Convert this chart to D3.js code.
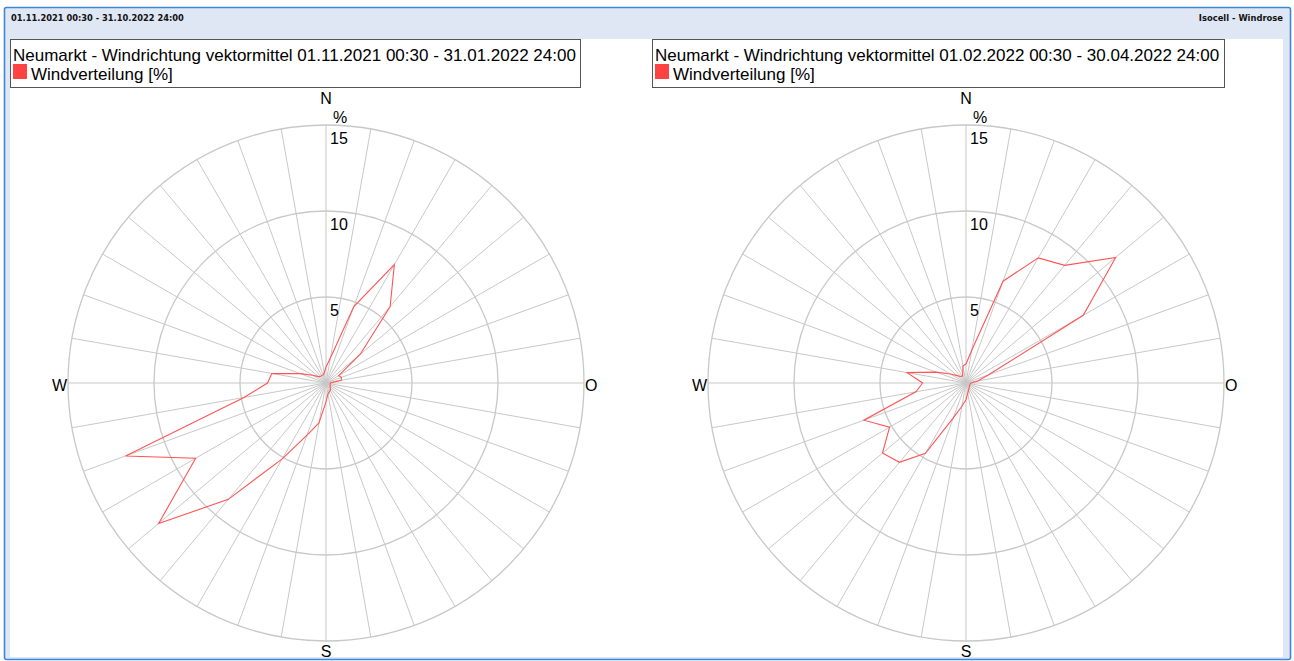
<!DOCTYPE html>
<html>
<head>
<meta charset="utf-8">
<script src="https://cdn.jsdelivr.net/npm/d3@7"></script>
<style>
  html, body { margin: 0; padding: 0; background: #ffffff; }
  svg { display: block; }
</style>
</head>
<body>
<svg id="chart" width="1294" height="661"></svg>
<script>
// Wind directions in degrees (clockwise from north)
const directions = d3.range(0, 360, 10);

// Wind distribution [%] per direction, winter period
const windWinter = [
  0.93, 1.47, 4.73, 7.95, 5.8, 2.6, 0.85, 0.95, 0.9,
  0.25, 0.25, 0.25, 0.3, 0.3, 0.4, 0.5, 0.55, 0.65,
  1.1, 2.36, 3.22, 5.09, 8.83, 12.7, 8.75, 12.4, 4.84,
  3.4, 3.2, 1.6, 0.9, 0.58, 0.5, 0.5, 0.5, 0.6
];

// Wind distribution [%] per direction, spring period
const windSpring = [
  1.1, 1.95, 6.3, 8.4, 8.93, 11.36, 7.87, 1.4, 0.7,
  0.3, 0.25, 0.25, 0.25, 0.25, 0.3, 0.35, 0.45, 0.6,
  0.97, 1.37, 2.16, 4.72, 6.02, 6.34, 5.13, 6.32, 2.96,
  2.52, 3.48, 1.85, 1.05, 0.67, 0.5, 0.45, 0.55, 1.02
];

const radialTicks = [5, 10, 15];
const compassLabels = ["N", "O", "S", "W"];

const headerLeft = "01.11.2021 00:30 - 31.10.2022 24:00";
const headerRight = "Isocell - Windrose";
const chartTitles = [
  "Neumarkt - Windrichtung vektormittel 01.11.2021 00:30 - 31.01.2022 24:00",
  "Neumarkt - Windrichtung vektormittel 01.02.2022 00:30 - 30.04.2022 24:00"
];
const seriesName = "Windverteilung [%]";
const unitLabel = "%";

const svg = d3.select("#chart");
const FONT = "'Liberation Sans', Arial, sans-serif";

// Window frame with header strip
svg.append("rect")
  .attr("x", 4.5).attr("y", 7.5).attr("width", 1286).attr("height", 652)
  .attr("rx", 2)
  .attr("fill", "#dfe7f5").attr("stroke", "#3f86d6").attr("stroke-width", 1.6);
svg.append("rect")
  .attr("x", 10).attr("y", 39).attr("width", 1273).attr("height", 618)
  .attr("fill", "#ffffff");

svg.append("text")
  .attr("x", 11).attr("y", 21)
  .attr("font-family", "'DejaVu Sans', Verdana, sans-serif")
  .attr("font-weight", "bold").attr("font-size", 8.3)
  .attr("fill", "#111")
  .text(headerLeft);
svg.append("text")
  .attr("x", 1283).attr("y", 21)
  .attr("text-anchor", "end")
  .attr("font-family", "'DejaVu Sans', Verdana, sans-serif")
  .attr("font-weight", "bold").attr("font-size", 8.4)
  .attr("fill", "#111")
  .text(headerRight);

const rScale = d3.scaleLinear().domain([0, 15]).range([0, 258]);
const aScale = d3.scaleLinear().domain([0, 360]).range([0, 2 * Math.PI]);

function drawRose(cx, boxX, boxW, title, values) {
  // legend box
  const lg = svg.append("g");
  lg.append("rect")
    .attr("x", boxX + 0.5).attr("y", 39.5).attr("width", boxW).attr("height", 48)
    .attr("fill", "#fff").attr("stroke", "#555").attr("stroke-width", 1);
  lg.append("text")
    .attr("x", boxX + 3).attr("y", 61)
    .attr("font-family", FONT).attr("font-size", 17).attr("fill", "#000")
    .text(title);
  lg.append("rect")
    .attr("x", boxX + 3).attr("y", 64).attr("width", 14).attr("height", 15)
    .attr("fill", "#ff4242");
  lg.append("text")
    .attr("x", boxX + 21).attr("y", 80)
    .attr("font-family", FONT).attr("font-size", 17).attr("fill", "#000")
    .text(seriesName);

  const cy = 383;
  const g = svg.append("g").attr("transform", `translate(${cx},${cy})`);

  // spokes
  g.selectAll("line.spoke").data(directions).join("line")
    .attr("class", "spoke")
    .attr("x1", 0).attr("y1", 0)
    .attr("x2", d => rScale(15) * Math.sin(aScale(d)))
    .attr("y2", d => -rScale(15) * Math.cos(aScale(d)))
    .attr("stroke", "#c8c8c8").attr("stroke-width", 1);

  // rings
  g.selectAll("circle.ring").data(radialTicks).join("circle")
    .attr("class", "ring")
    .attr("r", d => rScale(d))
    .attr("fill", "none").attr("stroke", "#c8c8c8").attr("stroke-width", 1.3);

  // ring labels
  g.selectAll("text.tick").data(radialTicks).join("text")
    .attr("class", "tick")
    .attr("x", 4).attr("y", d => -rScale(d) + 19)
    .attr("font-family", FONT).attr("font-size", 16).attr("fill", "#000")
    .text(d => d);
  g.append("text")
    .attr("x", 7).attr("y", -rScale(15) - 2)
    .attr("font-family", FONT).attr("font-size", 16).attr("fill", "#000")
    .text(unitLabel);

  // compass labels
  const R = rScale(15);
  const pos = {
    N: { x: 0, y: -R - 21, a: "middle" },
    O: { x: R + 1, y: 8, a: "start" },
    S: { x: 0, y: R + 16, a: "middle" },
    W: { x: -R - 1, y: 8, a: "end" }
  };
  g.selectAll("text.compass").data(compassLabels).join("text")
    .attr("class", "compass")
    .attr("x", d => pos[d].x).attr("y", d => pos[d].y)
    .attr("text-anchor", d => pos[d].a)
    .attr("font-family", FONT).attr("font-size", 16).attr("fill", "#000")
    .text(d => d);

  // wind distribution polygon
  const line = d3.lineRadial()
    .angle((d, i) => aScale(directions[i]))
    .radius(d => rScale(d))
    .curve(d3.curveLinearClosed);
  g.append("path")
    .datum(values)
    .attr("d", line)
    .attr("fill", "none")
    .attr("stroke", "#ff5555").attr("stroke-width", 1.1);
}

drawRose(326, 10, 570, chartTitles[0], windWinter);
drawRose(966, 652, 572, chartTitles[1], windSpring);
</script>
</body>
</html>
